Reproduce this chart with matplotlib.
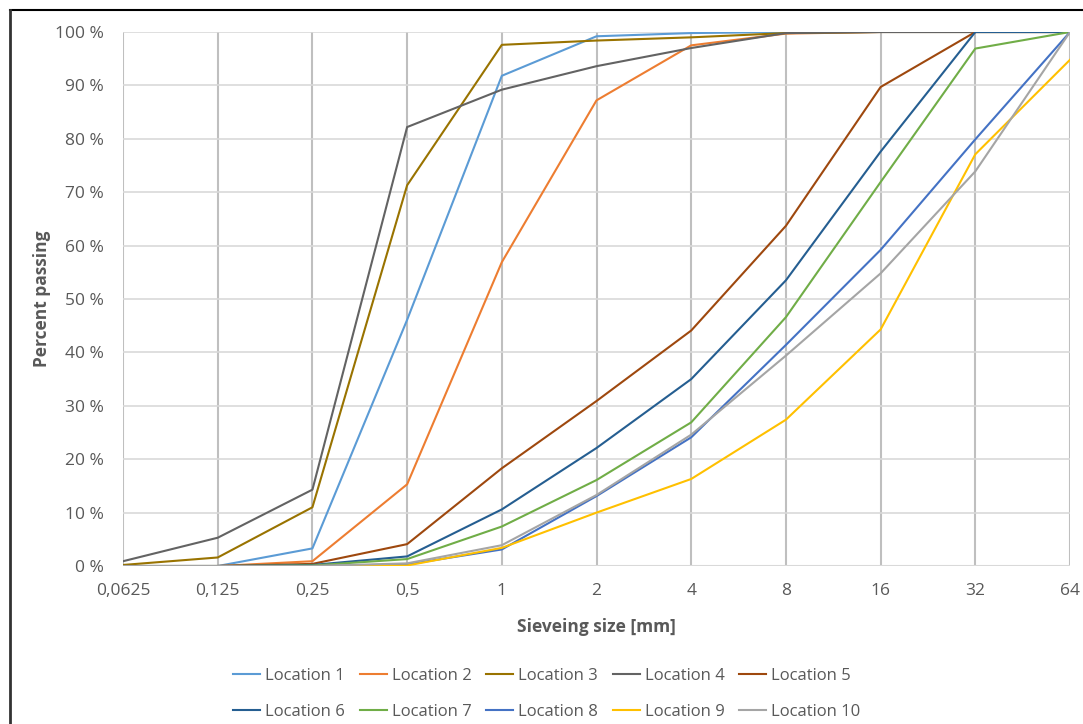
import matplotlib.pyplot as plt
from matplotlib.lines import Line2D

sizes = ["0,0625", "0,125", "0,25", "0,5", "1", "2", "4", "8", "16", "32", "64"]
loc1 = [0, 0, 3.3, 46.1, 91.8, 99.2, 99.8, 100, 100, 100, 100]
loc2 = [0, 0, 0.9, 15.3, 56.9, 87.2, 97.5, 99.7, 100, 100, 100]
loc3 = [0.2, 1.6, 11.0, 71.3, 97.6, 98.4, 99.0, 99.8, 100, 100, 100]
loc4 = [0.9, 5.3, 14.3, 82.2, 89.2, 93.6, 97.0, 99.8, 100, 100, 100]
loc5 = [0, 0, 0.4, 4.1, 18.3, 30.9, 44.1, 63.7, 89.7, 100, 100]
loc6 = [0, 0, 0.2, 1.8, 10.6, 22.1, 35.0, 53.5, 77.6, 100, 100]
loc7 = [0, 0, 0.1, 1.3, 7.4, 16.1, 26.9, 46.6, 71.9, 96.9, 100]
loc8 = [0, 0, 0, 0.3, 3.1, 13.1, 24.1, 41.4, 59.2, 79.9, 100]
loc9 = [0, 0, 0, 0.1, 3.4, 10.0, 16.3, 27.4, 44.3, 77.1, 94.8]
loc10 = [0, 0, 0, 0.5, 3.9, 13.3, 24.6, 39.4, 54.8, 73.9, 100]

series = [loc1, loc2, loc3, loc4, loc5, loc6, loc7, loc8, loc9, loc10]
names = ["Location %d" % (i + 1) for i in range(10)]
colors = ["#5B9BD5", "#ED7D31", "#997300", "#636363", "#9E480E",
          "#255E91", "#70AD47", "#4472C4", "#FFC000", "#A5A5A5"]

plt.rcParams['font.family'] = ['Open Sans', 'DejaVu Sans']
txt = "#595959"

fig = plt.figure(figsize=(10.83, 7.24), dpi=100)
ax = fig.add_axes([0.1136, 0.2182, 0.8744, 0.7376])

x = list(range(len(sizes)))
handles = []
for vals, name, c in zip(series, names, colors):
    h, = ax.plot(x, vals, color=c, lw=1.5, label=name, zorder=3)
    handles.append(h)

ax.set_xlim(0, len(sizes) - 1)
ax.set_ylim(0, 100)
ax.set_xticks(x)
ax.set_xticklabels(sizes)
ax.set_yticks(range(0, 101, 10))
ax.set_yticklabels(["%d %%" % v for v in range(0, 101, 10)])
ax.tick_params(length=0, labelsize=12.5, colors=txt)
ax.tick_params(axis='x', pad=12)
ax.tick_params(axis='y', pad=14)
ax.grid(axis='x', color="#bfbfbf", lw=1.5)
ax.grid(axis='y', color="#d9d9d9", lw=1.2)
ax.set_axisbelow(True)
for s in ax.spines.values():
    s.set_visible(False)
ax.axhline(0, color="#d9d9d9", lw=1.5, zorder=2)

ax.set_xlabel("Sieveing size [mm]", fontsize=12.5, fontweight='bold', color=txt, labelpad=14)
ax.set_ylabel("Percent passing", fontsize=12.5, fontweight='bold', color=txt, labelpad=3)

# legend fills column-wise, so interleave to get row-wise order
order = [0, 5, 1, 6, 2, 7, 3, 8, 4, 9]
leg = fig.legend([handles[i] for i in order], [names[i] for i in order],
                 loc='center', bbox_to_anchor=(0.505, 0.041), ncol=5, frameon=False,
                 fontsize=12, handlelength=1.6, handletextpad=0.3, columnspacing=0.9,
                 labelspacing=1.2)
for t in leg.get_texts():
    t.set_color(txt)

# figure border (top and left only are visible in the original)
fig.add_artist(Line2D([0.0092, 1.0], [0.986, 0.986], color="black", lw=1.5, transform=fig.transFigure))
fig.add_artist(Line2D([0.0092, 0.0092], [0.0, 0.986], color="#333333", lw=2.0, transform=fig.transFigure))

fig.savefig("out.png", dpi=100)
